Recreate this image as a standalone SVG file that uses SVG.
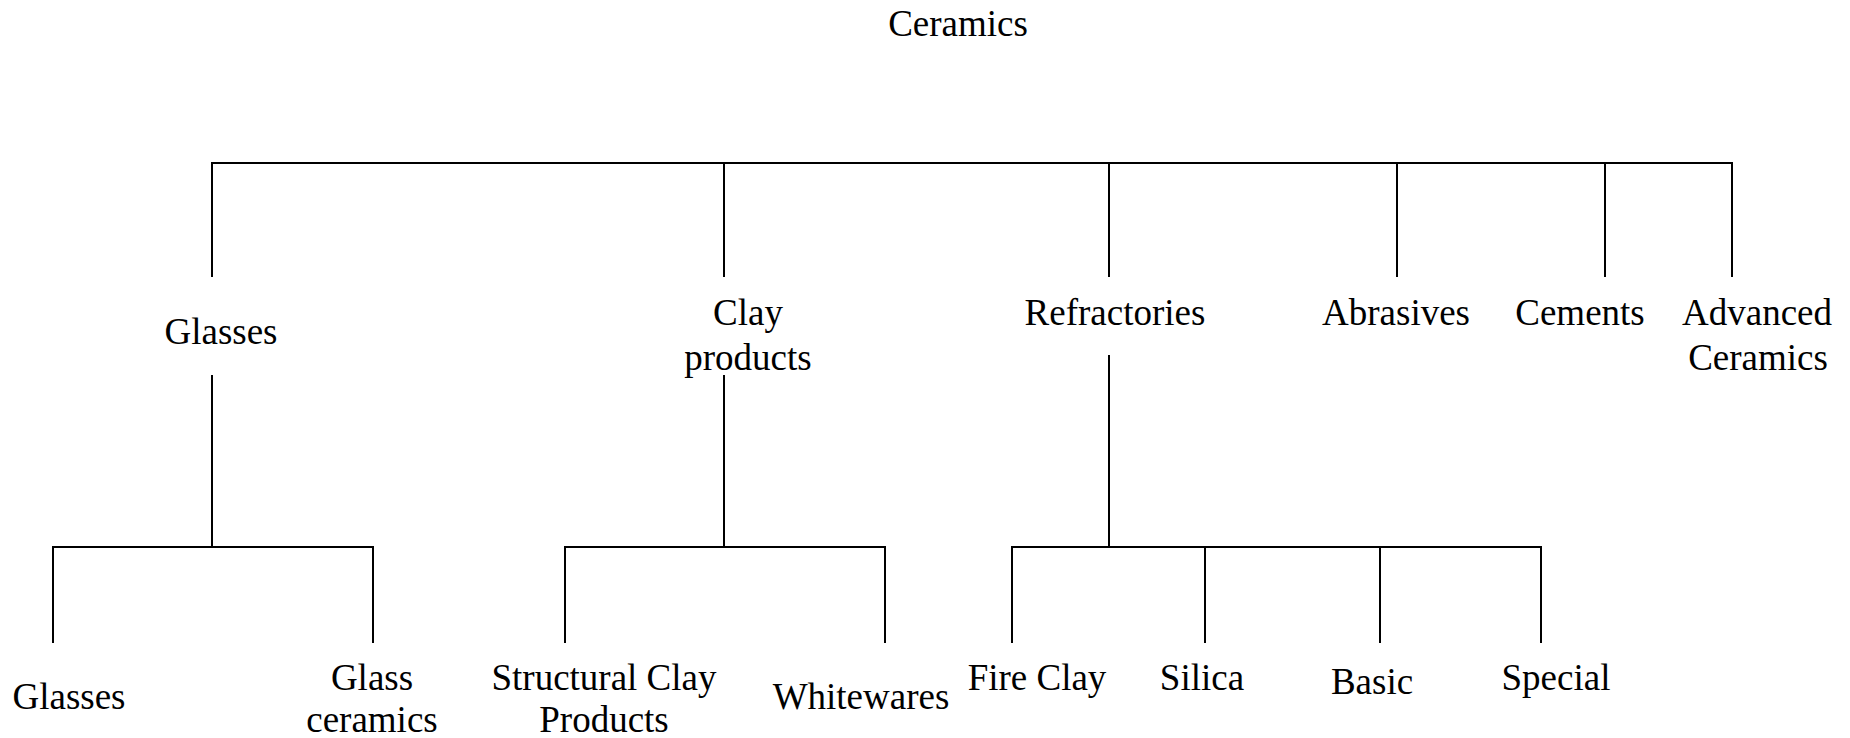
<svg xmlns="http://www.w3.org/2000/svg" width="1850" height="738" viewBox="0 0 1850 738">
<style>
text{font-family:"Liberation Serif","Times New Roman",serif;font-size:37px;fill:#000;text-anchor:middle}
.c line{stroke:#000;stroke-width:2}
</style>
<rect width="1850" height="738" fill="#fff"/>
<g class="c" id="connectors">
<line x1="212" y1="163" x2="1732" y2="163"/>
<line x1="212" y1="162" x2="212" y2="277"/>
<line x1="724" y1="162" x2="724" y2="277"/>
<line x1="1109" y1="162" x2="1109" y2="277"/>
<line x1="1397" y1="162" x2="1397" y2="277"/>
<line x1="1605" y1="162" x2="1605" y2="277"/>
<line x1="1732" y1="162" x2="1732" y2="277"/>
<line x1="212" y1="375" x2="212" y2="547"/>
<line x1="53" y1="547" x2="373" y2="547"/>
<line x1="53" y1="546" x2="53" y2="643"/>
<line x1="373" y1="546" x2="373" y2="643"/>
<line x1="724" y1="375" x2="724" y2="547"/>
<line x1="565" y1="547" x2="885" y2="547"/>
<line x1="565" y1="546" x2="565" y2="643"/>
<line x1="885" y1="546" x2="885" y2="643"/>
<line x1="1109" y1="355" x2="1109" y2="547"/>
<line x1="1012" y1="547" x2="1541" y2="547"/>
<line x1="1012" y1="546" x2="1012" y2="643"/>
<line x1="1205" y1="546" x2="1205" y2="643"/>
<line x1="1380" y1="546" x2="1380" y2="643"/>
<line x1="1541" y1="546" x2="1541" y2="643"/>
</g>
<g id="ceramics"><text x="958" y="36">Ceramics</text></g>
<g id="glasses"><text x="221" y="344">Glasses</text></g>
<g id="clay-products"><text x="748" y="325">Clay</text><text x="748" y="370">products</text></g>
<g id="refractories"><text x="1115" y="325">Refractories</text></g>
<g id="abrasives"><text x="1396" y="325">Abrasives</text></g>
<g id="cements"><text x="1580" y="325">Cements</text></g>
<g id="advanced-ceramics"><text x="1757" y="325">Advanced</text><text x="1758" y="370">Ceramics</text></g>
<g id="glasses-2"><text x="69" y="709">Glasses</text></g>
<g id="glass-ceramics"><text x="372" y="690">Glass</text><text x="372" y="732">ceramics</text></g>
<g id="structural-clay"><text x="604" y="690">Structural Clay</text><text x="604" y="732">Products</text></g>
<g id="whitewares"><text x="861" y="709">Whitewares</text></g>
<g id="fire-clay"><text x="1037" y="690">Fire Clay</text></g>
<g id="silica"><text x="1202" y="690">Silica</text></g>
<g id="basic"><text x="1372" y="694">Basic</text></g>
<g id="special"><text x="1556" y="690">Special</text></g>
</svg>
